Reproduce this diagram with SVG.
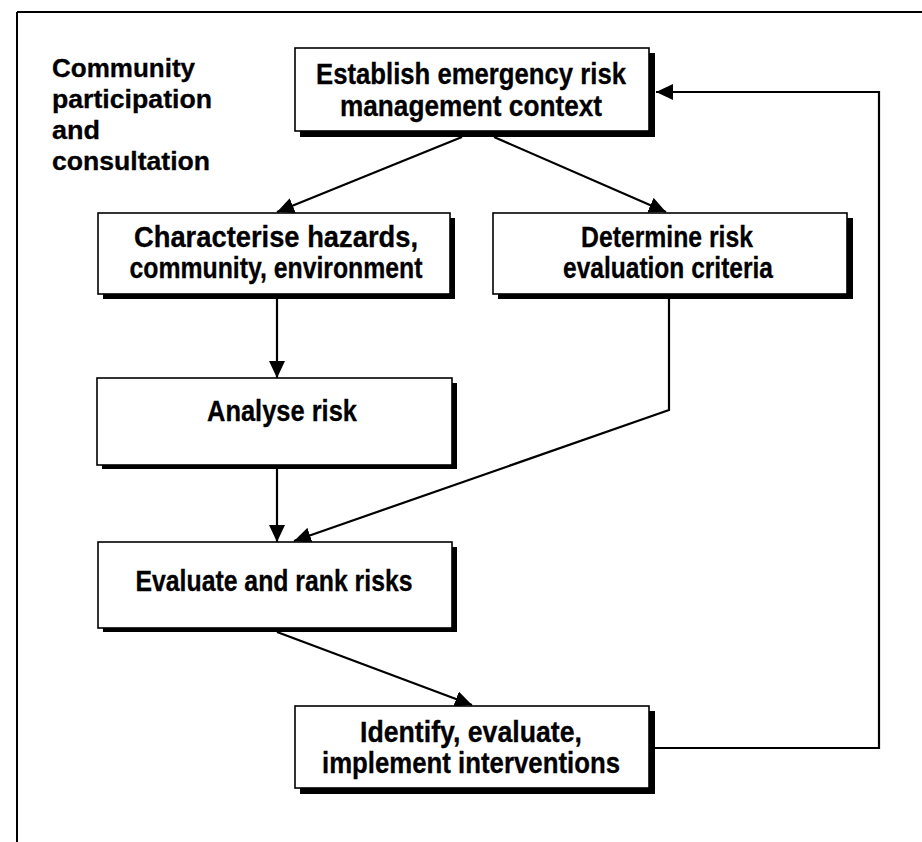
<svg xmlns="http://www.w3.org/2000/svg" width="922" height="842" viewBox="0 0 922 842">
  <style>
    .frame { stroke: #000; stroke-width: 2; fill: none; }
    .shadow { fill: #000; }
    .box { fill: #fff; stroke: #000; stroke-width: 1.6; }
    .lbl { font-family: "Liberation Sans", Arial, sans-serif; font-weight: bold; font-size: 29px; fill: #000; stroke: #000; stroke-width: 0.3; text-anchor: middle; }
    .side { font-family: "Liberation Sans", Arial, sans-serif; font-weight: bold; font-size: 25px; fill: #000; stroke: #000; stroke-width: 0.3; }
    .conn { stroke: #000; stroke-width: 2.2; fill: none; }
  </style>
  <defs>
    <marker id="arrow" markerUnits="userSpaceOnUse" markerWidth="18" markerHeight="16" refX="17" refY="8" orient="auto">
      <path d="M0,0 L17,8 L0,16 Z" fill="#000"/>
    </marker>
  </defs>

  <rect width="922" height="842" fill="#fff"/>

  <!-- outer frame: top and left rules only -->
  <g id="frame">
    <line class="frame" x1="17" y1="12" x2="922" y2="12"/>
    <line class="frame" x1="17" y1="12" x2="17" y2="842"/>
  </g>

  <!-- side heading -->
  <g id="side-label">
    <text class="side" x="52" y="77" textLength="143" lengthAdjust="spacingAndGlyphs">Community</text>
    <text class="side" x="52" y="108" textLength="160" lengthAdjust="spacingAndGlyphs">participation</text>
    <text class="side" x="52" y="139" textLength="48" lengthAdjust="spacingAndGlyphs">and</text>
    <text class="side" x="52" y="170" textLength="158" lengthAdjust="spacingAndGlyphs">consultation</text>
  </g>

  <!-- connectors -->
  <g id="connectors">
    <line class="conn" x1="462" y1="137" x2="277" y2="212" marker-end="url(#arrow)"/>
    <line class="conn" x1="494" y1="137" x2="666" y2="212" marker-end="url(#arrow)"/>
    <line class="conn" x1="277" y1="299" x2="277" y2="378" marker-end="url(#arrow)"/>
    <line class="conn" x1="277" y1="469" x2="277" y2="542" marker-end="url(#arrow)"/>
    <polyline class="conn" points="669,299 669,410 294,541" marker-end="url(#arrow)"/>
    <line class="conn" x1="277" y1="632" x2="472" y2="705" marker-end="url(#arrow)"/>
    <polyline class="conn" points="655,748 879,748 879,92 656,92" marker-end="url(#arrow)"/>
  </g>

  <!-- nodes -->
  <g id="establish-context">
    <rect class="shadow" x="300" y="53" width="355" height="84"/>
    <rect class="box" x="295" y="48" width="354" height="83"/>
    <text class="lbl" x="471" y="84" textLength="310" lengthAdjust="spacingAndGlyphs">Establish emergency risk</text>
    <text class="lbl" x="471" y="116" textLength="262" lengthAdjust="spacingAndGlyphs">management context</text>
  </g>

  <g id="characterise">
    <rect class="shadow" x="103" y="218" width="352" height="81"/>
    <rect class="box" x="98" y="213" width="352" height="81"/>
    <text class="lbl" x="276" y="247" textLength="284" lengthAdjust="spacingAndGlyphs">Characterise hazards,</text>
    <text class="lbl" x="276" y="278" textLength="293" lengthAdjust="spacingAndGlyphs">community, environment</text>
  </g>

  <g id="criteria">
    <rect class="shadow" x="498" y="218" width="355" height="81"/>
    <rect class="box" x="493" y="213" width="354" height="81"/>
    <text class="lbl" x="667" y="247" textLength="172" lengthAdjust="spacingAndGlyphs">Determine risk</text>
    <text class="lbl" x="668" y="278" textLength="210" lengthAdjust="spacingAndGlyphs">evaluation criteria</text>
  </g>

  <g id="analyse">
    <rect class="shadow" x="102" y="383" width="355" height="86"/>
    <rect class="box" x="97" y="378" width="355" height="87"/>
    <text class="lbl" x="282" y="421" textLength="150" lengthAdjust="spacingAndGlyphs">Analyse risk</text>
  </g>

  <g id="evaluate-rank">
    <rect class="shadow" x="103" y="547" width="354" height="85"/>
    <rect class="box" x="98" y="542" width="354" height="86"/>
    <text class="lbl" x="274" y="591" textLength="277" lengthAdjust="spacingAndGlyphs">Evaluate and rank risks</text>
  </g>

  <g id="interventions">
    <rect class="shadow" x="300" y="711" width="355" height="83"/>
    <rect class="box" x="295" y="706" width="354" height="82"/>
    <text class="lbl" x="471" y="742" textLength="222" lengthAdjust="spacingAndGlyphs">Identify, evaluate,</text>
    <text class="lbl" x="471" y="773" textLength="298" lengthAdjust="spacingAndGlyphs">implement interventions</text>
  </g>
</svg>
